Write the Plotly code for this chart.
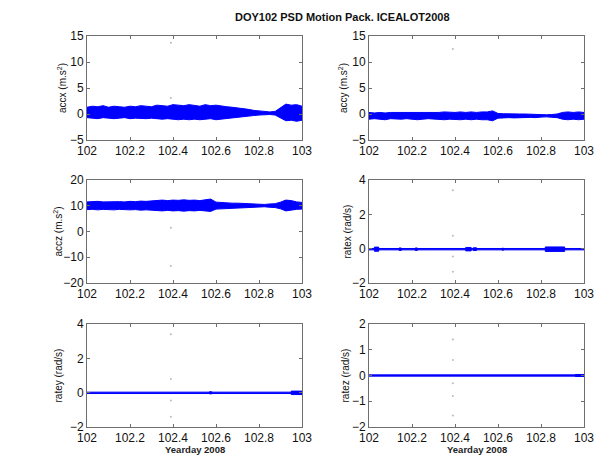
import numpy as np
import plotly.graph_objects as go

# ---------------- data ----------------
t_env = [round(102 + 0.025 * i, 3) for i in range(41)]

accx_upper = [1.3, 1.5, 1.4, 1.6, 1.3, 1.5, 1.4, 1.3, 1.5, 1.4, 1.6, 1.5, 1.4, 1.7, 1.6, 1.5, 1.8, 1.7, 1.6, 1.8, 1.7,
              1.5, 1.8, 1.6, 1.7, 1.5, 1.4, 1.3, 1.2, 1.0, 0.9, 0.7, 0.6, 0.45, 0.4, 0.5, 1.2, 1.9, 1.7, 1.8, 1.5]
accx_lower = [-0.7, -0.8, -0.9, -0.7, -0.8, -0.9, -0.8, -0.7, -0.9, -0.8, -0.8, -0.9, -0.8, -0.9, -1.0, -0.9, -1.0,
              -1.1, -1.0, -1.1, -1.0, -1.1, -1.0, -0.9, -1.1, -0.9, -0.8, -0.7, -0.6, -0.5, -0.4, -0.3, -0.2, -0.1,
              -0.1, -0.2, -0.7, -1.3, -1.2, -1.4, -1.2]

accy_upper = [0.3, 0.2, 0.3, 0.2, 0.3, 0.3, 0.2, 0.3, 0.2, 0.3, 0.3, 0.2, 0.3, 0.3, 0.4, 0.3, 0.3, 0.4, 0.3, 0.4, 0.3,
              0.4, 0.4, 0.6, 0.1, 0.05, 0.0, 0.05, 0.0, 0.0, -0.05, 0.0, -0.1, -0.15, -0.1, 0.0, 0.3, 0.4, 0.3, 0.4, 0.3]
accy_lower = [-1.0, -0.9, -1.0, -1.1, -0.9, -1.0, -1.0, -0.9, -1.0, -1.1, -1.0, -0.9, -1.0, -1.0, -1.1, -1.0, -1.0,
              -1.1, -1.0, -1.1, -1.0, -1.1, -1.1, -1.3, -0.8, -0.75, -0.7, -0.75, -0.7, -0.7, -0.65, -0.7, -0.6,
              -0.55, -0.6, -0.7, -1.0, -1.1, -1.0, -1.1, -1.0]

accz_upper = [11.5, 11.6, 11.7, 11.5, 11.6, 11.7, 11.6, 11.5, 11.7, 11.6, 11.8, 11.7, 11.9, 12.0, 12.2, 12.0, 12.2,
              12.1, 12.3, 12.1, 12.2, 12.0, 12.2, 12.6, 11.4, 11.2, 11.1, 11.0, 11.0, 10.9, 10.8, 10.7, 10.6, 10.5,
              10.7, 10.8, 11.4, 12.2, 12.0, 11.5, 11.3]
accz_lower = [8.5, 8.6, 8.4, 8.6, 8.5, 8.4, 8.6, 8.5, 8.4, 8.5, 8.3, 8.4, 8.3, 8.2, 8.0, 8.2, 8.0, 8.1, 7.9, 8.1, 8.0,
              8.2, 8.0, 7.8, 8.7, 8.9, 9.0, 9.1, 9.1, 9.2, 9.3, 9.4, 9.5, 9.6, 9.4, 9.3, 8.8, 8.0, 8.2, 8.6, 8.7]

# rate channels: quiet level, quiet half-width and bursts of larger noise
ratex_level, ratex_half = -0.03, 0.04
ratex_burst_start = [102.025, 102.14, 102.215, 102.45, 102.485, 102.62, 102.82]
ratex_burst_end = [102.045, 102.15, 102.225, 102.475, 102.50, 102.625, 102.91]
ratex_burst_half = [0.12, 0.07, 0.07, 0.10, 0.08, 0.06, 0.13]

ratey_level, ratey_half = -0.01, 0.04
ratey_burst_start = [102.57, 102.95]
ratey_burst_end = [102.58, 103.0]
ratey_burst_half = [0.06, 0.10]

ratez_level, ratez_half = 0.0, 0.025
ratez_burst_start = [102.96]
ratez_burst_end = [103.0]
ratez_burst_half = [0.04]

# isolated spikes (faint dots) near yearday 102.39
spike_t = 102.39
accx_spikes = [13.7, 3.1]
accy_spikes = [12.5]
accz_spikes = [-13.4, 1.5]
ratex_spikes = [3.4, 0.75, -0.45, -1.35]
ratey_spikes = [3.4, 0.8, -0.45, -1.4]
ratez_spikes = [1.4, 0.6, -0.3, -0.8, -1.55]

x_ticks = [102, 102.2, 102.4, 102.6, 102.8, 103]
x_tick_labels = ["102", "102.2", "102.4", "102.6", "102.8", "103"]

panels = [
    dict(name="accx", label="accx (m.s<sup>2</sup>)", yr=[-5, 15], yt=[-5, 0, 5, 10, 15], spikes=accx_spikes),
    dict(name="accy", label="accy (m.s<sup>2</sup>)", yr=[-5, 15], yt=[-5, 0, 5, 10, 15], spikes=accy_spikes),
    dict(name="accz", label="accz (m.s<sup>2</sup>)", yr=[-20, 20], yt=[-20, -10, 0, 10, 20], spikes=accz_spikes),
    dict(name="ratex", label="ratex (rad/s)", yr=[-2, 4], yt=[-2, 0, 2, 4], spikes=ratex_spikes),
    dict(name="ratey", label="ratey (rad/s)", yr=[-2, 4], yt=[-2, 0, 2, 4], spikes=ratey_spikes),
    dict(name="ratez", label="ratez (rad/s)", yr=[-2, 2], yt=[-2, -1, 0, 1, 2], spikes=ratez_spikes),
]
env = {"accx": (accx_upper, accx_lower), "accy": (accy_upper, accy_lower), "accz": (accz_upper, accz_lower)}
rates = {
    "ratex": (ratex_level, ratex_half, ratex_burst_start, ratex_burst_end, ratex_burst_half),
    "ratey": (ratey_level, ratey_half, ratey_burst_start, ratey_burst_end, ratey_burst_half),
    "ratez": (ratez_level, ratez_half, ratez_burst_start, ratez_burst_end, ratez_burst_half),
}

# ---------------- layout geometry ----------------
W, H = 595, 457
col_px = [(87, 302), (369, 584)]
row_px = [(36, 140), (180, 283), (324, 427)]
ylab_px = [[62, 343], [57, 347], [58, 345]]

BLUE = "#0000ff"
FONT = "Liberation Sans, Arial, Helvetica, sans-serif"
AXC = "#6e6e6e"

fig = go.Figure()
annotations = []
layout = {}

for i, p in enumerate(panels):
    r, c = divmod(i, 2)
    k = i + 1
    xa = "x" if k == 1 else f"x{k}"
    ya = "y" if k == 1 else f"y{k}"
    name = p["name"]

    if name in env:
        up, lo = env[name]
        xs = t_env + t_env[::-1]
        ys = list(up) + list(lo)[::-1]
        fig.add_trace(go.Scatter(x=xs, y=ys, fill="toself", fillcolor=BLUE, mode="lines",
                                 line=dict(color=BLUE, width=1), xaxis=xa, yaxis=ya,
                                 showlegend=False, hoverinfo="skip"))
    else:
        lev, half, bs, be, bh = rates[name]
        fig.add_trace(go.Scatter(x=[102, 103, 103, 102], y=[lev + half, lev + half, lev - half, lev - half],
                                 fill="toself", fillcolor=BLUE, mode="lines",
                                 line=dict(color=BLUE, width=1), xaxis=xa, yaxis=ya,
                                 showlegend=False, hoverinfo="skip"))
        bx, by = [], []
        for s, e, h in zip(bs, be, bh):
            bx += [s, e, e, s, s, None]
            by += [lev + h, lev + h, lev - h, lev - h, lev + h, None]
        fig.add_trace(go.Scatter(x=bx, y=by, fill="toself", fillcolor=BLUE, mode="lines",
                                 line=dict(color=BLUE, width=1), xaxis=xa, yaxis=ya,
                                 showlegend=False, hoverinfo="skip"))

    fig.add_trace(go.Scatter(x=[spike_t] * len(p["spikes"]), y=p["spikes"], mode="markers",
                             marker=dict(color="#b8b8c8", size=2), xaxis=xa, yaxis=ya,
                             showlegend=False, hoverinfo="skip"))

    x0, x1 = col_px[c]
    y0, y1 = row_px[r]
    axis_common = dict(showline=True, linecolor=AXC, linewidth=1, mirror="ticks", ticks="inside",
                       ticklen=3, tickcolor=AXC, showgrid=False, zeroline=False, automargin=False,
                       ticklabeloverflow="allow",
                       tickfont=dict(family=FONT, size=12, color="#111"))
    layout["xaxis" if k == 1 else f"xaxis{k}"] = dict(
        domain=[x0 / W, x1 / W], range=[102, 103], anchor=ya, tickvals=x_ticks, ticktext=x_tick_labels,
        **axis_common)
    layout["yaxis" if k == 1 else f"yaxis{k}"] = dict(
        domain=[1 - y1 / H, 1 - y0 / H], range=p["yr"], anchor=xa, tickvals=p["yt"], **axis_common)

    annotations.append(dict(text=p["label"], textangle=-90, x=ylab_px[r][c] / W, y=1 - (y0 + y1) / 2 / H,
                            xref="paper", yref="paper", xanchor="center", yanchor="middle", showarrow=False,
                            font=dict(family=FONT, size=10, color="#111")))
    if r == 2:
        annotations.append(dict(text="<b>Yearday 2008</b>", x=(x0 + x1) / 2 / W, y=1 - 449 / H,
                                xref="paper", yref="paper", xanchor="center", yanchor="middle",
                                showarrow=False, font=dict(family=FONT, size=9.5, color="#222")))

annotations.append(dict(text="<b>DOY102 PSD Motion Pack. ICEALOT2008</b>", x=342 / W, y=1 - 17 / H,
                        xref="paper", yref="paper", xanchor="center", yanchor="middle", showarrow=False,
                        font=dict(family=FONT, size=11, color="#111")))

fig.update_layout(template="none", width=W, height=H, margin=dict(l=0, r=0, t=0, b=0, autoexpand=False),
                  plot_bgcolor="white", paper_bgcolor="white", annotations=annotations, **layout)

fig.write_html("out.html", config={"displayModeBar": False},
               post_script="document.body.style.margin='0px';")
